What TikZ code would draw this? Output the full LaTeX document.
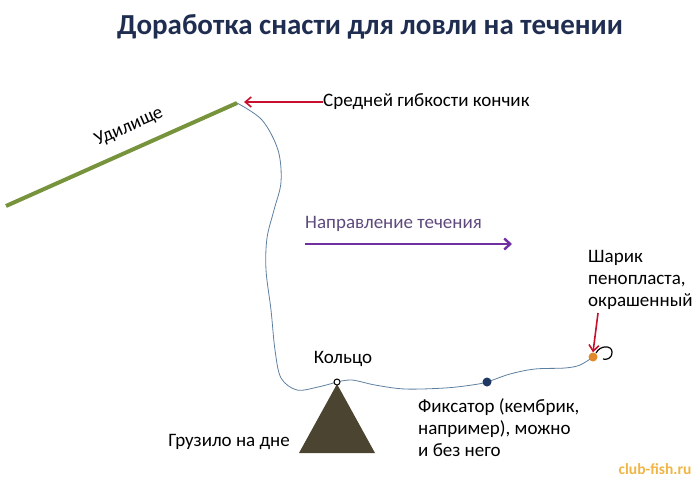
\documentclass[tikz,border=0pt]{standalone}
\usepackage{fontspec}
\setmainfont{Carlito}
\usetikzlibrary{arrows.meta}
\definecolor{titlec}{HTML}{1F2D50}
\definecolor{rodc}{HTML}{77933C}
\definecolor{linec}{HTML}{5E80A0}
\definecolor{redc}{HTML}{C8102E}
\definecolor{purc}{HTML}{7030A0}
\definecolor{purt}{HTML}{5F4A7E}
\definecolor{sinker}{HTML}{4A4431}
\definecolor{fixc}{HTML}{1F3864}
\definecolor{beadc}{HTML}{E08A2D}
\definecolor{wmc}{HTML}{F0B545}
\tikzset{
  lbl/.style={font=\fontsize{19}{22}\selectfont, inner sep=0pt, align=left},
  fline/.style={draw=linec, line width=0.8pt},
  redarrow/.style={draw=redc, line width=1.6pt, -{Straight Barb[length=6pt,width=10pt]}},
}
\begin{document}
\begin{tikzpicture}[x=1pt,y=-1pt]
\useasboundingbox (0,0) rectangle (700,487);
% title
\node[font=\fontsize{29}{34}\selectfont\bfseries, text=titlec, inner sep=0pt] (title) at (370,27) {Доработка снасти для ловли на течении};
% rod
\coordinate (butt) at (6,206);
\coordinate (tip) at (237,103);
\draw[rodc, line width=4pt] (butt) -- (tip);
\node[lbl, rotate=24] (rodlbl) at (129,127) {Удилище};
% sinker
\coordinate (apex) at (337,384);
\coordinate (bl) at (299,453);
\coordinate (br) at (375,453);
\fill[sinker] (apex) -- (br) -- (bl) -- cycle;
% fishing line
\coordinate (fixp) at (487,382);
\coordinate (beadp) at (593,357);
\coordinate (ringp) at (337,382);
\draw[fline] plot[smooth, tension=0.55] coordinates {(tip) (262,120) (278,150) (281,182) (274,210) (267,238) (266,270) (271,310) (275,350) (281,378) (297,390) (318,387) (ringp)};
\draw[fline] plot[smooth, tension=0.55] coordinates {(ringp) (352,380) (375,385) (405,389) (445,388) (472,385) (fixp) (510,374) (535,369) (565,368) (580,365) (beadp)};
% ring
\node[circle, draw=black, fill=white, line width=1pt, minimum size=6pt, inner sep=0pt] (ring) at (ringp) {};
% fixator
\node[circle, fill=fixc, minimum size=9pt, inner sep=0pt] (fix) at (fixp) {};
% hook
\coordinate (hk1) at (596,353);
\coordinate (hk2) at (603,359);
\draw[black, line width=1.2pt] (hk1) .. controls (600,345) and (612,345) .. (612,352) .. controls (612,359) and (606,360) .. (hk2);
% bead
\node[circle, fill=beadc, minimum size=9pt, inner sep=0pt] (bead) at (beadp) {};
% labels
\node[lbl, anchor=west] (tiplbl) at (323,102) {Средней гибкости кончик};
\draw[redarrow] (tiplbl.west) -- (244,102) coordinate (tiparr);
\node[lbl, anchor=west, text=purt] (curlbl) at (305,224) {Направление течения};
\coordinate (cur1) at (305,244);
\coordinate (cur2) at (512,244);
\draw[purc, line width=2.4pt, -{Straight Barb[length=6pt,width=11pt]}] (cur1) -- (cur2);
\node[lbl, anchor=south] (ringlbl) at (343,367) {Кольцо};
\node[lbl, anchor=east] (sinklbl) at (290,442) {Грузило на дне};
\node[lbl, anchor=north west] (fixlbl) at (418,398) {Фиксатор (кембрик,\\например), можно\\и без него};
\node[lbl, anchor=north west] (beadlbl) at (588,250) {Шарик\\пенопласта,\\окрашенный};
\draw[redarrow] (598,313) -- (bead.north);
\node[font=\fontsize{15.5}{18}\selectfont\bfseries, text=wmc, inner sep=0pt] (wm) at (655,469) {club-fish.ru};
\end{tikzpicture}
\end{document}
